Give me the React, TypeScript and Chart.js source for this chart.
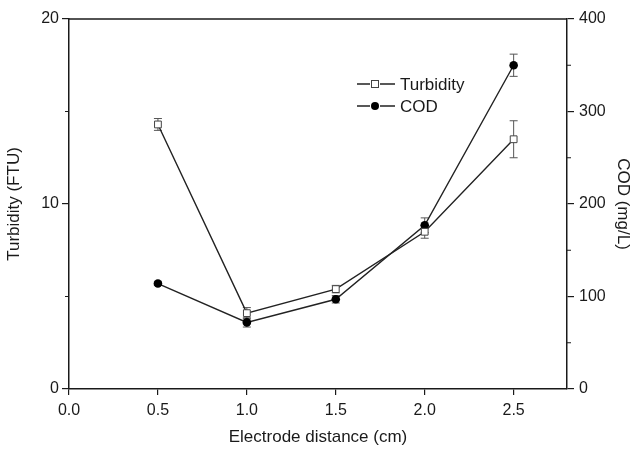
import React, { useEffect, useRef } from 'react';
import { Chart, registerables } from 'chart.js';

Chart.register(...registerables);

const distances = [0.5, 1.0, 1.5, 2.0, 2.5];
const turbidity = [14.3, 4.1, 5.4, 8.5, 13.5];
const turbidityErr = [0.32, 0.3, 0.2, 0.35, 1.0];
const cod = [114, 72, 97, 177, 350];
const codErr = [2, 5, 4, 8, 12];

const xTicks = [0, 0.5, 1.0, 1.5, 2.0, 2.5];
const yLeftTicks = [0, 10, 20];
const yLeftMinor = [5, 15];
const yRightTicks = [0, 100, 200, 300, 400];
const yRightMinor = [50, 150, 250, 350];

const FONT = '"Liberation Sans", Arial, sans-serif';
const INK = '#1a1a1a';

const frameAndExtras = {
  id: 'frameAndExtras',
  beforeDatasetsDraw(chart: any) {
    const ctx = chart.ctx;
    ctx.save();
    ctx.strokeStyle = '#555';
    ctx.lineWidth = 1;
    chart.data.datasets.forEach((ds: any) => {
      const ys = chart.scales[ds.yAxisID];
      const xs = chart.scales.x;
      ds.data.forEach((p: any, j: number) => {
        const e = ds.errors[j];
        const px = xs.getPixelForValue(p.x);
        const y1 = ys.getPixelForValue(p.y + e);
        const y2 = ys.getPixelForValue(p.y - e);
        ctx.beginPath();
        ctx.moveTo(px, y1);
        ctx.lineTo(px, y2);
        ctx.moveTo(px - 4, y1);
        ctx.lineTo(px + 4, y1);
        ctx.moveTo(px - 4, y2);
        ctx.lineTo(px + 4, y2);
        ctx.stroke();
      });
    });
    ctx.restore();
  },
  afterDraw(chart: any) {
    const ctx = chart.ctx;
    const { left, right, top } = chart.chartArea;
    ctx.save();
    ctx.strokeStyle = INK;
    ctx.lineWidth = 1.5;
    ctx.beginPath();
    ctx.moveTo(left, top);
    ctx.lineTo(right, top);
    ctx.stroke();
    // minor ticks
    ctx.lineWidth = 1.2;
    const yl = chart.scales.y;
    const yr = chart.scales.y2;
    ctx.beginPath();
    yLeftMinor.forEach((v) => {
      const py = yl.getPixelForValue(v);
      ctx.moveTo(left - 4, py);
      ctx.lineTo(left, py);
    });
    yRightMinor.forEach((v) => {
      const py = yr.getPixelForValue(v);
      ctx.moveTo(right, py);
      ctx.lineTo(right + 4, py);
    });
    ctx.stroke();

    // legend
    const lx = 357;
    const rows = [84, 106];
    chart.data.datasets.forEach((ds: any, i: number) => {
      const y = rows[i];
      const cx = lx + 18;
      ctx.strokeStyle = ds.borderColor;
      ctx.lineWidth = 1.3;
      ctx.beginPath();
      ctx.moveTo(lx, y);
      ctx.lineTo(cx - 5, y);
      ctx.moveTo(cx + 5, y);
      ctx.lineTo(lx + 38, y);
      ctx.stroke();
      if (ds.pointStyle === 'rect') {
        ctx.fillStyle = ds.pointBackgroundColor;
        ctx.fillRect(cx - 3.5, y - 3.5, 7, 7);
        ctx.strokeStyle = ds.pointBorderColor;
        ctx.lineWidth = 1;
        ctx.strokeRect(cx - 3.5, y - 3.5, 7, 7);
      } else {
        ctx.fillStyle = ds.pointBackgroundColor;
        ctx.beginPath();
        ctx.arc(cx, y, 4, 0, Math.PI * 2);
        ctx.fill();
      }
      ctx.fillStyle = INK;
      ctx.font = '17px ' + FONT;
      ctx.textAlign = 'left';
      ctx.textBaseline = 'middle';
      ctx.fillText(ds.label, lx + 43, y + 1);
    });
    ctx.restore();
  },
};

export default function App() {
  const ref = useRef<HTMLCanvasElement>(null);
  useEffect(() => {
    document.body.style.margin = '0';
    const chart = new Chart(ref.current as HTMLCanvasElement, {
      type: 'line',
      data: {
        datasets: [
          {
            label: 'Turbidity',
            data: distances.map((x, i) => ({ x, y: turbidity[i] })),
            errors: turbidityErr,
            yAxisID: 'y',
            borderColor: '#222',
            borderWidth: 1.4,
            pointStyle: 'rect',
            pointRadius: 4.8,
            pointBackgroundColor: '#fff',
            pointBorderColor: '#444',
            pointBorderWidth: 1,
            tension: 0,
          } as any,
          {
            label: 'COD',
            data: distances.map((x, i) => ({ x, y: cod[i] })),
            errors: codErr,
            yAxisID: 'y2',
            borderColor: '#222',
            borderWidth: 1.4,
            pointStyle: 'circle',
            pointRadius: 4.3,
            pointBackgroundColor: '#000',
            pointBorderColor: '#000',
            pointBorderWidth: 0,
            tension: 0,
          } as any,
        ],
      },
      options: {
        responsive: false,
        animation: false,
        layout: { padding: { top: 19, left: 0, right: 0, bottom: 0 } },
        plugins: { legend: { display: false }, tooltip: { enabled: false } },
        scales: {
          x: {
            type: 'linear',
            min: 0,
            max: 2.8,
            afterBuildTicks: (s: any) => {
              s.ticks = xTicks.map((v) => ({ value: v }));
            },
            afterFit: (s: any) => {
              s.height = 60;
            },
            ticks: {
              callback: (v: any) => Number(v).toFixed(1),
              font: { family: FONT, size: 16 },
              color: INK,
              padding: 6,
              maxRotation: 0,
              autoSkip: false,
            },
            grid: { drawOnChartArea: false, drawTicks: true, tickLength: 6, color: INK, lineWidth: 1.2 },
            border: { display: true, color: INK, width: 1.5 },
            title: {
              display: true,
              text: 'Electrode distance (cm)',
              font: { family: FONT, size: 17 },
              color: INK,
              padding: { top: 0, bottom: 1 },
            },
          },
          y: {
            type: 'linear',
            position: 'left',
            min: 0,
            max: 20,
            afterBuildTicks: (s: any) => {
              s.ticks = yLeftTicks.map((v) => ({ value: v }));
            },
            afterFit: (s: any) => {
              s.width = 69;
            },
            ticks: {
              font: { family: FONT, size: 16 },
              color: INK,
              padding: 3,
              autoSkip: false,
            },
            grid: { drawOnChartArea: false, drawTicks: true, tickLength: 7, color: INK, lineWidth: 1.2 },
            border: { display: true, color: INK, width: 1.5 },
            title: {
              display: true,
              text: 'Turbidity (FTU)',
              font: { family: FONT, size: 17 },
              color: INK,
              padding: { top: 4, bottom: 0 },
            },
          },
          y2: {
            type: 'linear',
            position: 'right',
            min: 0,
            max: 400,
            afterBuildTicks: (s: any) => {
              s.ticks = yRightTicks.map((v) => ({ value: v }));
            },
            afterFit: (s: any) => {
              s.width = 67;
            },
            ticks: {
              font: { family: FONT, size: 16 },
              color: INK,
              padding: 5,
              autoSkip: false,
            },
            grid: { drawOnChartArea: false, drawTicks: true, tickLength: 7, color: INK, lineWidth: 1.2 },
            border: { display: true, color: INK, width: 1.5 },
            title: {
              display: true,
              text: 'COD (mg/L)',
              font: { family: FONT, size: 17 },
              color: INK,
              padding: { top: 1, bottom: 0 },
            },
          },
        },
      },
      plugins: [frameAndExtras],
    } as any);
    return () => chart.destroy();
  }, []);
  return (
    <div style={{ position: 'absolute', left: 0, top: 0, width: 634, height: 449 }}>
      <canvas ref={ref} width={634} height={449} />
    </div>
  );
}
